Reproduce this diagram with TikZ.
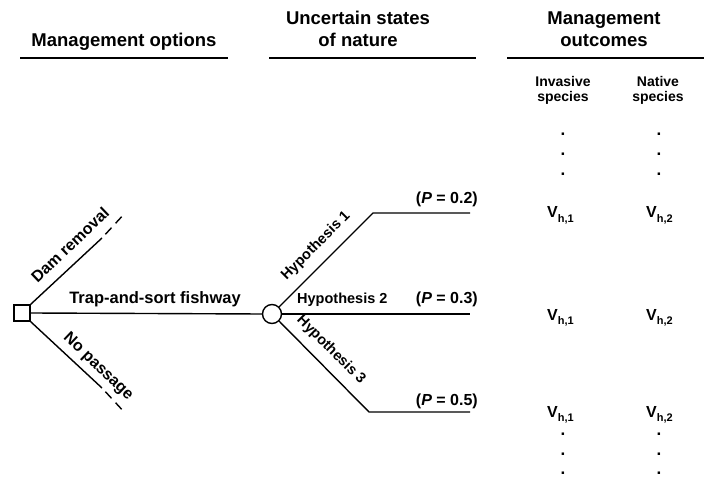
\documentclass[tikz,border=0pt]{standalone}
\usepackage{fontspec}
\setmainfont{Liberation Sans}
\usetikzlibrary{positioning}

\begin{document}
\begin{tikzpicture}[
    x=1pt, y=-1pt,
    head/.style={font=\fontsize{18.5}{22}\selectfont\bfseries, align=center, anchor=base, inner sep=0pt},
    lbl/.style={font=\fontsize{16}{18}\selectfont\bfseries, inner sep=0pt},
    hyp/.style={font=\fontsize{14.5}{17}\selectfont\bfseries, inner sep=0pt},
    sp/.style={font=\fontsize{14}{15}\selectfont\bfseries, align=center, anchor=base, inner sep=0pt},
    val/.style={font=\fontsize{16}{18}\selectfont\bfseries, anchor=base west, inner sep=0pt},
    dot/.style={font=\fontsize{17}{18}\selectfont\bfseries, anchor=base, inner sep=0pt},
    rule/.style={line width=1.8pt},
    branch/.style={line width=1.4pt},
    tail/.style={line width=1.4pt, dash pattern=on 0pt off 5pt on 9pt off 6pt on 9pt off 40pt},
]
\useasboundingbox (0,0) rectangle (704,478);

% column headers
\node[head] (hopt) at (124,47) {Management options};
\node[head] (hnat) at (358,47) {Uncertain states\\of nature};
\node[head] (hout) at (604,47) {Management\\outcomes};
\draw[rule] (20,58) -- (228,58);
\draw[rule] (269,58) -- (476,58);
\draw[rule] (507,58) -- (704,58);

\node[sp] (inv) at (563,102) {Invasive\\species};
\node[sp] (nat) at (658,102) {Native\\species};

% decision and chance nodes
\node[draw, rectangle, line width=1.4pt, minimum size=16pt, inner sep=0pt] (dec) at (22,313) {};
\node[draw, circle, line width=1.4pt, minimum size=19pt, inner sep=0pt] (chance) at (272,314) {};

\coordinate (dam) at (102,238);
\coordinate (damend) at (126,212);
\coordinate (nop) at (102,388);
\coordinate (nopend) at (126,414);
\coordinate (h1) at (373,213);
\coordinate (h1end) at (470,213);
\coordinate (h2end) at (470,314);
\coordinate (h3) at (369,412);
\coordinate (h3end) at (470,412);

\draw[branch] (dec.north east) -- (dam);
\draw[tail] (dam) -- (damend);
\draw[branch] (dec.south east) -- (nop);
\draw[tail] (nop) -- (nopend);
\draw[branch] (dec.east) -- (chance.west);
\draw[branch] (chance.45) -- (h1) -- (h1end);
\draw[branch] (chance.east) -- (h2end);
\draw[branch] (chance.-45) -- (h3) -- (h3end);

% branch labels
\node[lbl, rotate=43.7] (ldam) at (70,245) {Dam removal};
\node[lbl, rotate=-43.7] (lnop) at (98,367) {No passage};
\node[lbl, font=\fontsize{16.5}{18}\selectfont\bfseries, anchor=base] (ltrap) at (155,304) {Trap-and-sort fishway};
\node[hyp, rotate=45] (lh1) at (316,246) {Hypothesis 1};
\node[hyp, anchor=base west] (lh2) at (297,304) {Hypothesis 2};
\node[hyp, rotate=-45] (lh3) at (331,350) {Hypothesis 3};
\node[lbl, anchor=base east] (p1) at (478,204) {(\textit{P} = 0.2)};
\node[lbl, anchor=base east] (p2) at (478,304) {(\textit{P} = 0.3)};
\node[lbl, anchor=base east] (p3) at (478,405) {(\textit{P} = 0.5)};

% outcome values
\foreach \r/\yy in {1/218, 2/320, 3/417} {
  \node[val] (va\r) at (547,\yy) {V\raisebox{-0.5ex}{\fontsize{11}{12}\selectfont h,1}};
  \node[val] (vb\r) at (646,\yy) {V\raisebox{-0.5ex}{\fontsize{11}{12}\selectfont h,2}};
}
\foreach \k/\yy in {1/136, 2/156, 3/176, 4/435, 5/455, 6/474} {
  \node[dot] (da\k) at (563,\yy) {.};
  \node[dot] (db\k) at (659,\yy) {.};
}
\end{tikzpicture}
\end{document}
